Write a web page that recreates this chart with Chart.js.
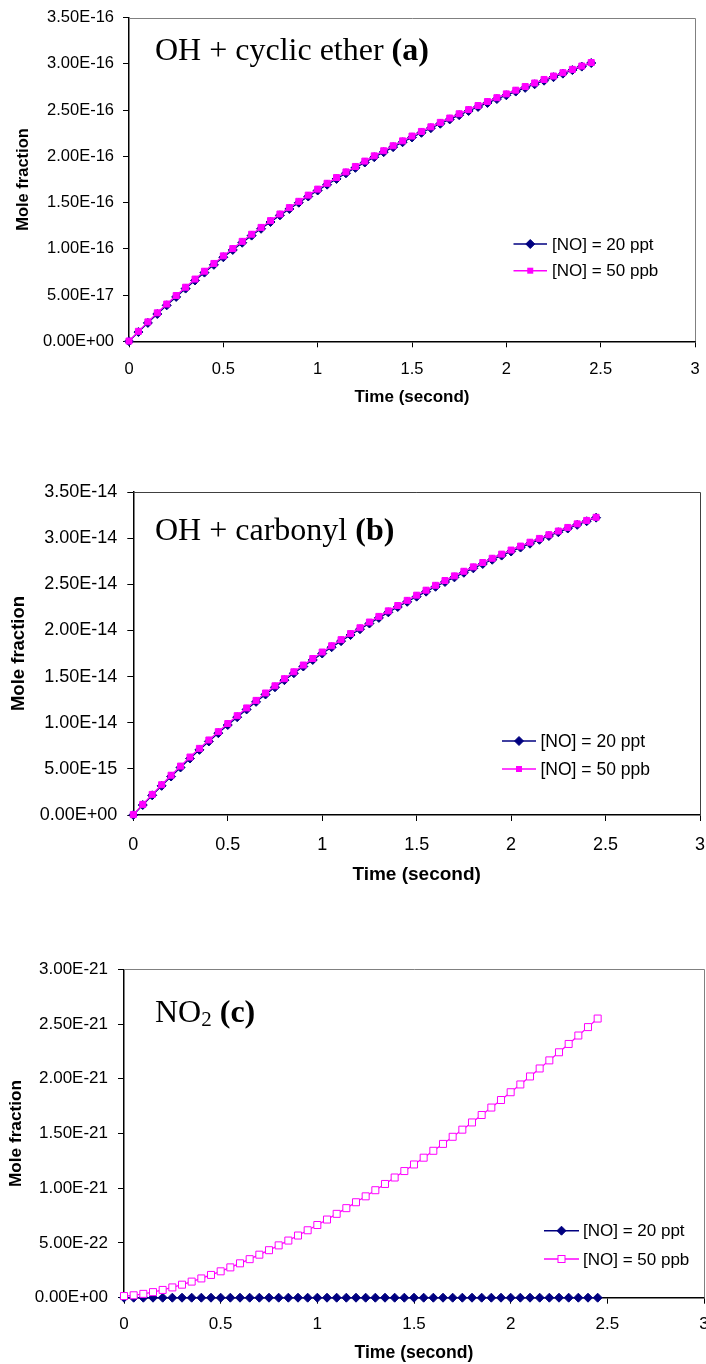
<!DOCTYPE html>
<html><head><meta charset="utf-8">
<script src="https://cdn.jsdelivr.net/npm/chart.js@4.4.1/dist/chart.umd.min.js"></script>
<style>
html,body{margin:0;padding:0;background:#fff;overflow:hidden;width:706px;height:1364px;position:relative}
canvas{position:absolute;left:0}
</style></head>
<body>
<canvas id="chartA" width="730" height="440" style="top:-20px"></canvas>
<canvas id="chartB" width="730" height="450" style="top:440px"></canvas>
<canvas id="chartC" width="730" height="464" style="top:900px"></canvas>
<script>
// ---- data ----
const timeSeconds = [0,0.05,0.1,0.15,0.2,0.25,0.3,0.35,0.4,0.45,0.5,0.55,0.6,0.65,0.7,0.75,0.8,0.85,0.9,0.95,1,1.05,1.1,1.15,1.2,1.25,1.3,1.35,1.4,1.45,1.5,1.55,1.6,1.65,1.7,1.75,1.8,1.85,1.9,1.95,2,2.05,2.1,2.15,2.2,2.25,2.3,2.35,2.4,2.45];

const xTickValues = [0,0.5,1,1.5,2,2.5,3];
const xTickLabels = ['0','0.5','1','1.5','2','2.5','3'];

// y axis units: chart A ×1e-16, chart B ×1e-14, chart C ×1e-21
const yTickValuesAB = [0,0.5,1,1.5,2,2.5,3,3.5];
const yTickLabelsA = ['0.00E+00','5.00E-17','1.00E-16','1.50E-16','2.00E-16','2.50E-16','3.00E-16','3.50E-16'];
const yTickLabelsB = ['0.00E+00','5.00E-15','1.00E-14','1.50E-14','2.00E-14','2.50E-14','3.00E-14','3.50E-14'];
const yTickValuesC = [0,0.5,1,1.5,2,2.5,3];
const yTickLabelsC = ['0.00E+00','5.00E-22','1.00E-21','1.50E-21','2.00E-21','2.50E-21','3.00E-21'];

const seriesNames = ['[NO] = 20 ppt','[NO] = 50 ppb'];

// (a) OH + cyclic ether, ×1e-16
const etherNO20ppt = [0,0.100,0.199,0.295,0.389,0.480,0.570,0.658,0.743,0.827,0.909,0.988,1.066,1.143,1.217,1.290,1.362,1.431,1.499,1.566,1.631,1.694,1.756,1.817,1.876,1.934,1.991,2.046,2.100,2.153,2.205,2.255,2.305,2.353,2.400,2.446,2.491,2.535,2.578,2.620,2.661,2.701,2.741,2.780,2.819,2.857,2.895,2.933,2.971,3.010];
const etherNO50ppb = [0.003,0.108,0.210,0.308,0.403,0.495,0.585,0.673,0.758,0.842,0.924,1.003,1.081,1.158,1.232,1.305,1.377,1.446,1.514,1.581,1.646,1.709,1.771,1.832,1.891,1.949,2.006,2.061,2.115,2.168,2.220,2.270,2.320,2.368,2.415,2.461,2.506,2.550,2.593,2.635,2.676,2.716,2.756,2.794,2.832,2.869,2.905,2.941,2.977,3.015];

// (b) OH + carbonyl, ×1e-14
const carbonylNO20ppt = [0,0.108,0.213,0.316,0.417,0.515,0.612,0.706,0.797,0.887,0.975,1.060,1.144,1.226,1.306,1.384,1.461,1.536,1.609,1.680,1.750,1.818,1.884,1.950,2.013,2.075,2.136,2.196,2.254,2.310,2.366,2.420,2.473,2.525,2.575,2.625,2.673,2.720,2.766,2.811,2.855,2.898,2.940,2.982,3.023,3.064,3.104,3.144,3.183,3.222];
const carbonylNO50ppb = [0.004,0.115,0.223,0.328,0.431,0.530,0.628,0.722,0.813,0.903,0.991,1.076,1.160,1.242,1.322,1.400,1.477,1.552,1.625,1.696,1.766,1.834,1.900,1.966,2.029,2.091,2.152,2.212,2.270,2.326,2.382,2.436,2.489,2.541,2.591,2.641,2.689,2.736,2.782,2.827,2.871,2.914,2.956,2.997,3.037,3.077,3.116,3.155,3.192,3.226];

// (c) NO2, ×1e-21
const no2NO20ppt = [0,0,0,0,0,0,0,0,0,0,0,0,0,0,0,0,0,0,0,0,0,0,0,0,0,0,0,0,0,0,0,0,0,0,0,0,0,0,0,0,0,0,0,0,0,0,0,0,0,0];
const no2NO50ppb = [0.015,0.022,0.035,0.051,0.071,0.094,0.119,0.147,0.176,0.208,0.241,0.277,0.314,0.352,0.393,0.434,0.478,0.522,0.568,0.616,0.664,0.714,0.766,0.818,0.872,0.926,0.982,1.039,1.098,1.157,1.217,1.279,1.342,1.405,1.470,1.535,1.601,1.669,1.737,1.806,1.877,1.948,2.021,2.094,2.168,2.242,2.318,2.395,2.472,2.550];

// ---- styling ----
const NAVY = '#000080', MAG = '#FF00FF';
const SANS = '"Liberation Sans", Arial, sans-serif';
const SERIF = '"Liberation Serif", "Times New Roman", serif';
Chart.defaults.color = '#000';
Chart.defaults.font.family = SANS;

function pts(ys){ return timeSeconds.map((t,i)=>({x:t,y:ys[i]})); }

function drawMarker(ctx, kind, x, y){
  ctx.save();
  if (kind === 'diamond') {
    ctx.fillStyle = NAVY; ctx.strokeStyle = NAVY; ctx.lineWidth = 1;
    const r = 4.5;
    ctx.beginPath(); ctx.moveTo(x, y-r); ctx.lineTo(x+r, y); ctx.lineTo(x, y+r); ctx.lineTo(x-r, y); ctx.closePath();
    ctx.fill(); ctx.stroke();
  } else if (kind === 'square') {
    ctx.fillStyle = MAG; const s = 3;
    ctx.fillRect(x-s, y-s, 2*s, 2*s);
  } else {
    ctx.fillStyle = '#fff'; ctx.strokeStyle = MAG; ctx.lineWidth = 1; const s = 3.5;
    ctx.fillRect(x-s, y-s, 2*s, 2*s); ctx.strokeRect(x-s, y-s, 2*s, 2*s);
  }
  ctx.restore();
}

// overlay coordinates are page coordinates; o.top is the canvas offset on the page
function overlay(o){
  return {
    id: 'overlay',
    afterDraw(chart){
      const ctx = chart.ctx, ca = chart.chartArea, T = o.top;
      ctx.save();
      // top and right frame
      ctx.strokeStyle = o.frameColor; ctx.lineWidth = 1;
      ctx.beginPath();
      ctx.moveTo(ca.left, Math.round(ca.top)+0.5);
      ctx.lineTo(Math.round(ca.right)+0.5, Math.round(ca.top)+0.5);
      ctx.lineTo(Math.round(ca.right)+0.5, ca.bottom);
      ctx.stroke();
      // panel title
      let x = o.titleX;
      ctx.fillStyle = '#000'; ctx.textBaseline = 'alphabetic'; ctx.textAlign = 'left';
      for (const seg of o.title){
        ctx.font = seg.font;
        ctx.fillText(seg.text, x, o.titleY - T + (seg.dy||0));
        x += ctx.measureText(seg.text).width;
      }
      // legend
      ctx.font = o.legendFont; ctx.textBaseline = 'middle';
      o.legend.forEach((lg, i) => {
        const y = o.legendY[i] - T;
        ctx.strokeStyle = lg.color; ctx.lineWidth = 1.5;
        ctx.beginPath(); ctx.moveTo(o.lineX0, y); ctx.lineTo(o.lineX1, y); ctx.stroke();
        drawMarker(ctx, lg.marker, (o.lineX0+o.lineX1)/2, y);
        ctx.fillStyle = '#000';
        ctx.fillText(seriesNames[i], o.textX, y + 1);
      });
      ctx.restore();
    }
  };
}

function makeChart(id, c){
  const yLabels = c.yLabels, yVals = c.yVals;
  const cv = document.getElementById(id);
  const W = cv.width, H = cv.height;
  c.overlay.top = c.top;
  return new Chart(cv, {
    type: 'line',
    data: { datasets: [
      { label: seriesNames[0], data: pts(c.s20), borderColor: NAVY, backgroundColor: NAVY,
        borderWidth: 1.25, pointStyle: 'rectRot', pointRadius: 4.5, pointBorderWidth: 1,
        pointBackgroundColor: NAVY, pointBorderColor: NAVY, tension: 0, order: 1, clip: false },
      { label: seriesNames[1], data: pts(c.s50), borderColor: MAG, backgroundColor: MAG,
        borderWidth: 1.25, pointStyle: 'rect', pointRadius: c.hollow ? 4.95 : 4.24, pointBorderWidth: 1,
        pointBackgroundColor: c.hollow ? '#fff' : MAG, pointBorderColor: MAG, tension: 0, order: 0, clip: false }
    ]},
    options: {
      responsive: false, animation: false, devicePixelRatio: 1,
      layout: { padding: { top: c.plotTop - c.top, right: W - c.plotRight, bottom: 0, left: 0 } },
      plugins: { legend: { display: false }, tooltip: { enabled: false }, title: { display: false } },
      scales: {
        x: {
          type: 'linear', min: 0, max: 3,
          afterBuildTicks: s => { s.ticks = xTickValues.map(v => ({ value: v })); },
          afterFit: s => { s.height = (c.top + H) - c.plotBottom; },
          ticks: { callback: (v, i) => xTickLabels[i], font: { size: c.tickSize }, padding: c.xTickPad, maxRotation: 0, autoSkip: false, color: '#000' },
          grid: { drawOnChartArea: false, drawTicks: true, tickLength: 6, color: '#000', lineWidth: 1 },
          border: { display: true, color: '#000', width: 1.5 },
          title: { display: true, text: 'Time (second)', font: { size: c.xTitleSize, weight: 'bold' },
                   padding: { top: 0, bottom: (c.top + H) - c.xTitleY - c.xTitleSize * 0.6 }, color: '#000' }
        },
        y: {
          type: 'linear', min: 0, max: yVals[yVals.length-1],
          afterBuildTicks: s => { s.ticks = yVals.map(v => ({ value: v })); },
          afterFit: s => { s.width = c.plotLeft; },
          ticks: { callback: (v, i) => yLabels[i], font: { size: c.tickSize }, padding: c.yTickPad, autoSkip: false, color: '#000' },
          grid: { drawOnChartArea: false, drawTicks: true, tickLength: 6, color: '#000', lineWidth: 1 },
          border: { display: true, color: '#000', width: 1.5 },
          title: { display: true, text: 'Mole fraction', font: { size: c.yTitleSize, weight: 'bold' },
                   padding: { top: c.yTitleX - c.yTitleSize * 0.6, bottom: 0 }, color: '#000' }
        }
      }
    },
    plugins: [overlay(c.overlay)]
  });
}

makeChart('chartA', {
  top: -20, s20: etherNO20ppt, s50: etherNO50ppb, yVals: yTickValuesAB, yLabels: yTickLabelsA, hollow: false,
  plotLeft: 129, plotRight: 695, plotTop: 17.7, plotBottom: 341.3,
  tickSize: 16.5, xTickPad: 12, yTickPad: 9, xTitleSize: 17, xTitleY: 397, yTitleSize: 16.5, yTitleX: 23.5,
  overlay: { frameColor: '#808080', titleX: 155, titleY: 60,
    title: [ { text: 'OH + cyclic ether ', font: '32px ' + SERIF }, { text: '(a)', font: 'bold 32px ' + SERIF } ],
    legendFont: '17px ' + SANS, legendY: [244, 270.7], lineX0: 513.5, lineX1: 547, textX: 552,
    legend: [ { color: NAVY, marker: 'diamond' }, { color: MAG, marker: 'square' } ] }
});

makeChart('chartB', {
  top: 440, s20: carbonylNO20ppt, s50: carbonylNO50ppb, yVals: yTickValuesAB, yLabels: yTickLabelsB, hollow: false,
  plotLeft: 133.3, plotRight: 700, plotTop: 492, plotBottom: 815,
  tickSize: 18, xTickPad: 13, yTickPad: 10, xTitleSize: 19, xTitleY: 875, yTitleSize: 18.5, yTitleX: 19,
  overlay: { frameColor: '#404040', titleX: 155, titleY: 540,
    title: [ { text: 'OH + carbonyl ', font: '32px ' + SERIF }, { text: '(b)', font: 'bold 32px ' + SERIF } ],
    legendFont: '17.5px ' + SANS, legendY: [741, 769], lineX0: 502, lineX1: 536, textX: 540.5,
    legend: [ { color: NAVY, marker: 'diamond' }, { color: MAG, marker: 'square' } ] }
});

makeChart('chartC', {
  top: 900, s20: no2NO20ppt, s50: no2NO50ppb, yVals: yTickValuesC, yLabels: yTickLabelsC, hollow: true,
  plotLeft: 124, plotRight: 704, plotTop: 969.3, plotBottom: 1297.7,
  tickSize: 17, xTickPad: 10, yTickPad: 10, xTitleSize: 17.6, xTitleY: 1353, yTitleSize: 17.2, yTitleX: 16,
  overlay: { frameColor: '#808080', titleX: 155, titleY: 1021.7,
    title: [ { text: 'NO', font: '32px ' + SERIF }, { text: '2', font: '21px ' + SERIF, dy: 4 }, { text: ' ', font: '32px ' + SERIF }, { text: '(c)', font: 'bold 32px ' + SERIF } ],
    legendFont: '17px ' + SANS, legendY: [1230.7, 1259], lineX0: 544, lineX1: 579, textX: 583,
    legend: [ { color: NAVY, marker: 'diamond' }, { color: MAG, marker: 'hollow' } ] }
});
</script>
</body></html>
